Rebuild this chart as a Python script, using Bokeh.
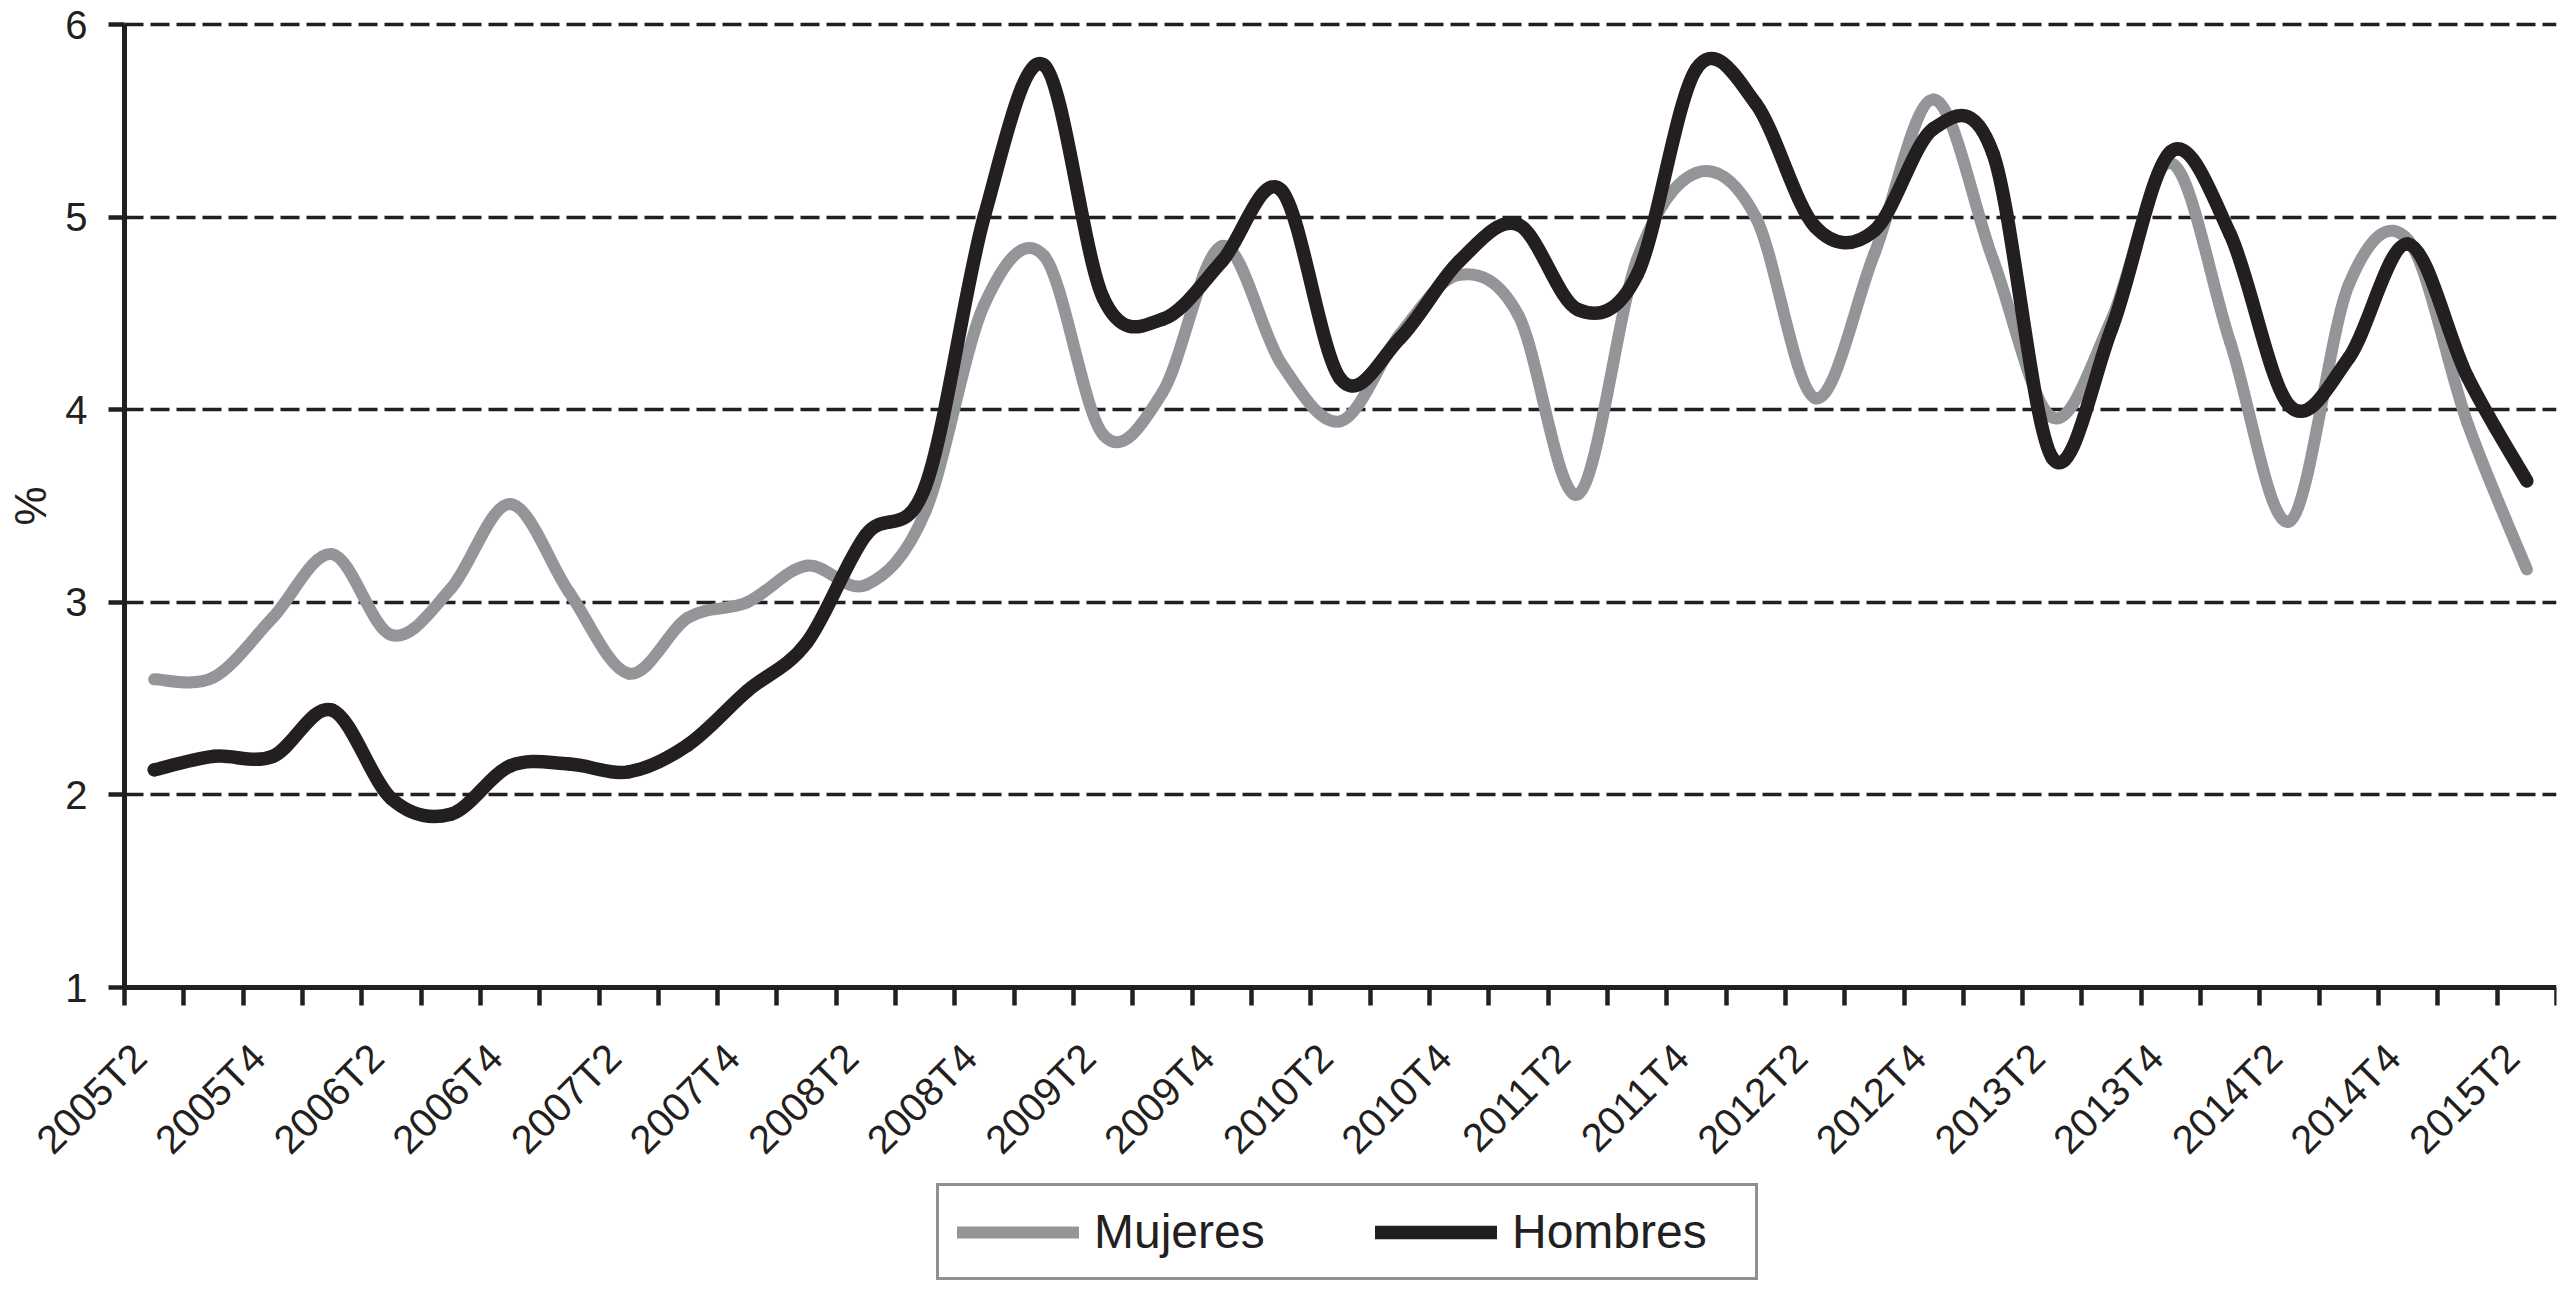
import numpy as np
from bokeh.plotting import figure
from bokeh.models import Range1d, FixedTicker, Legend, LegendItem, ColumnDataSource
from bokeh.embed import file_html
from bokeh.resources import INLINE

# ---------------- data ----------------
quarters = [
    "2005T2", "2005T3", "2005T4", "2006T1", "2006T2", "2006T3", "2006T4",
    "2007T1", "2007T2", "2007T3", "2007T4", "2008T1", "2008T2", "2008T3",
    "2008T4", "2009T1", "2009T2", "2009T3", "2009T4", "2010T1", "2010T2",
    "2010T3", "2010T4", "2011T1", "2011T2", "2011T3", "2011T4", "2012T1",
    "2012T2", "2012T3", "2012T4", "2013T1", "2013T2", "2013T3", "2013T4",
    "2014T1", "2014T2", "2014T3", "2014T4", "2015T1", "2015T2",
]
mujeres = [
    2.60, 2.61, 2.92, 3.25, 2.83, 3.07, 3.51, 3.05, 2.63, 2.92, 3.00,
    3.19, 3.09, 3.47, 4.55, 4.80, 3.87, 4.09, 4.85, 4.24, 3.94, 4.39,
    4.70, 4.49, 3.56, 4.78, 5.23, 5.00, 4.06, 4.81, 5.61, 4.78, 3.96,
    4.47, 5.28, 4.35, 3.42, 4.65, 4.88, 3.93, 3.17,
]
hombres = [
    2.13, 2.20, 2.20, 2.44, 1.98, 1.90, 2.15, 2.16, 2.12, 2.26, 2.54,
    2.79, 3.35, 3.60, 5.01, 5.79, 4.58, 4.47, 4.77, 5.14, 4.16, 4.37,
    4.77, 4.96, 4.52, 4.70, 5.77, 5.59, 4.95, 4.93, 5.46, 5.33, 3.75,
    4.42, 5.34, 4.91, 4.02, 4.27, 4.86, 4.17, 3.63,
]
y_ticks = [1, 2, 3, 4, 5, 6]
series_names = ["Mujeres", "Hombres"]

GRAY = "#939598"
INK = "#231f20"
FONT = "Liberation Sans"

# ---------------- layout (pixels) ----------------
W, H = 2559, 1282
TOP, BOTTOM_PAD, RIGHT_PAD = 0, 2, 3
AXIS_X_PX = 124.0                    # canvas x of the value axis
Y6_PX, Y1_PX = 24.0, 987.0           # canvas y of the values 6 and 1
n = len(quarters)
x_lo, x_hi = -0.5, n - 0.5
CAT_PX = (W - RIGHT_PAD - AXIS_X_PX) / (x_hi - x_lo)
x_start = x_lo - AXIS_X_PX / CAT_PX
FRAME_BOTTOM = H - BOTTOM_PAD
UNIT = (Y1_PX - Y6_PX) / (y_ticks[-1] - y_ticks[0])
y_start = y_ticks[0] - (FRAME_BOTTOM - Y1_PX) / UNIT
y_end = y_ticks[-1] + (Y6_PX - TOP) / UNIT


def smooth_segments(vals):
    """Cubic Bezier segments through every data point (smoothed line)."""
    x = np.arange(len(vals), dtype=float)
    y = np.asarray(vals, dtype=float)
    m = len(y)
    d = dict(x0=[], y0=[], x1=[], y1=[], cx0=[], cy0=[], cx1=[], cy1=[])
    for i in range(m - 1):
        im = max(i - 1, 0)
        ip = min(i + 2, m - 1)
        d["x0"].append(x[i]); d["y0"].append(y[i])
        d["x1"].append(x[i + 1]); d["y1"].append(y[i + 1])
        d["cx0"].append(x[i] + (x[i + 1] - x[im]) / 6.0)
        d["cy0"].append(y[i] + (y[i + 1] - y[im]) / 6.0)
        d["cx1"].append(x[i + 1] - (x[ip] - x[i]) / 6.0)
        d["cy1"].append(y[i + 1] - (y[ip] - y[i]) / 6.0)
    return ColumnDataSource(d)


p = figure(
    width=W, height=H,
    x_range=Range1d(x_start, x_hi), y_range=Range1d(y_start, y_end),
    output_backend="svg", toolbar_location=None,
    min_border_left=0, min_border_right=RIGHT_PAD,
    min_border_top=TOP, min_border_bottom=BOTTOM_PAD,
    background_fill_color="white", border_fill_color="white",
)
p.outline_line_color = None

# smoothed series
r_m = p.bezier(x0="x0", y0="y0", x1="x1", y1="y1", cx0="cx0", cy0="cy0",
               cx1="cx1", cy1="cy1", source=smooth_segments(mujeres),
               line_color=GRAY, line_width=12, line_cap="round")
r_h = p.bezier(x0="x0", y0="y0", x1="x1", y1="y1", cx0="cx0", cy0="cy0",
               cx1="cx1", cy1="cy1", source=smooth_segments(hombres),
               line_color=INK, line_width=13.5, line_cap="round")

# x axis at y = 1: tick marks at category boundaries, labels every second quarter
label_pos = [i - 0.25 for i in range(0, n, 2)]
xa = p.xaxis[0]
xa.fixed_location = y_ticks[0]
xa.bounds = (x_lo, x_hi)
xa.ticker = FixedTicker(ticks=label_pos, minor_ticks=[k - 0.5 for k in range(n + 1)])
xa.major_label_overrides = {pos: quarters[i] for pos, i in zip(label_pos, range(0, n, 2))}
xa.major_label_orientation = np.pi / 4
xa.major_tick_out = 0
xa.major_tick_in = 0
xa.minor_tick_out = 18
xa.minor_tick_in = 0
xa.minor_tick_line_width = 4.5
xa.minor_tick_line_color = INK
xa.major_label_standoff = 45
xa.axis_line_width = 5
xa.axis_line_color = INK

# y axis at the first category boundary, from 1 to 6
ya = p.yaxis[0]
ya.fixed_location = x_lo
ya.bounds = (y_ticks[0], y_ticks[-1])
ya.ticker = FixedTicker(ticks=y_ticks)
ya.major_tick_out = 16
ya.major_tick_in = 0
ya.major_tick_line_width = 4.5
ya.major_tick_line_color = INK
ya.minor_tick_line_color = None
ya.major_label_standoff = 21
ya.axis_line_width = 5
ya.axis_line_color = INK
ya.axis_label = "%"
ya.axis_label_standoff = 7
ya.axis_label_text_font = FONT
ya.axis_label_text_font_size = "44px"
ya.axis_label_text_font_style = "normal"
ya.axis_label_text_color = INK

for ax in (xa, ya):
    ax.major_label_text_font = FONT
    ax.major_label_text_font_size = "40px"
    ax.major_label_text_color = INK

# grid (horizontal dashed lines from the value axis to the right edge)
p.xgrid.visible = False
p.ygrid.ticker = FixedTicker(ticks=y_ticks[1:])
p.ygrid.grid_line_color = INK
p.ygrid.grid_line_width = 3.5
p.ygrid.grid_line_dash = "19 7"
try:
    p.ygrid.cross_bounds = (x_lo, x_hi)
except Exception:
    pass

# legend below the axis labels
legend = Legend(
    items=[LegendItem(label=series_names[0], renderers=[r_m]),
           LegendItem(label=series_names[1], renderers=[r_h])],
    location=(936, 0), orientation="horizontal",
    padding=18, spacing=56, margin=0,
    glyph_width=122, glyph_height=20, label_standoff=15, label_width=225,
    label_text_font=FONT, label_text_font_size="48px", label_text_color=INK,
    border_line_color=INK, border_line_width=3,
    background_fill_color="white", background_fill_alpha=1.0,
)
p.add_layout(legend)

open("out.html", "w").write(file_html(p, INLINE))
